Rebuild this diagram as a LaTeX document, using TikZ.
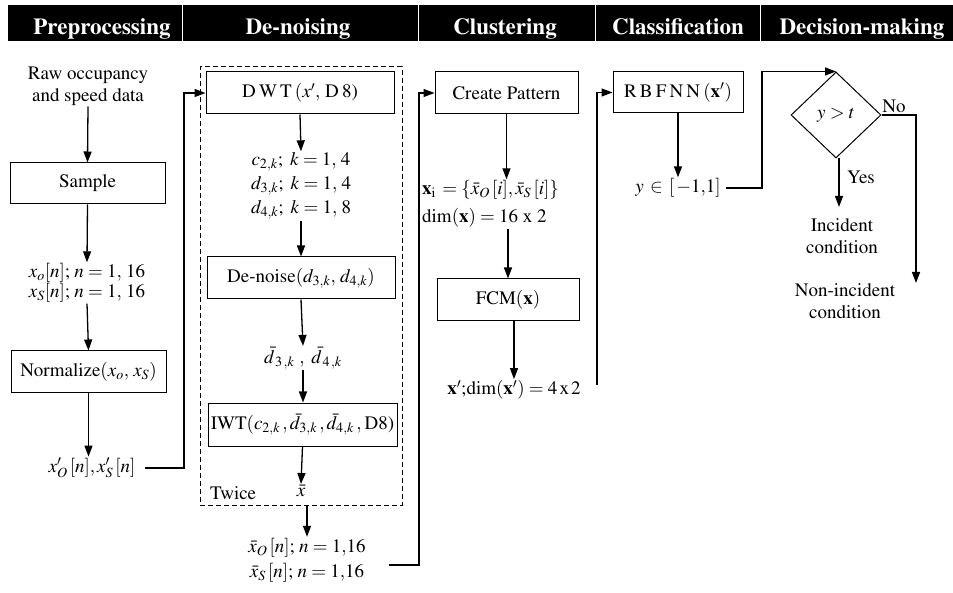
\documentclass[tikz,border=0pt]{standalone}
\usepackage[T1]{fontenc}
\usepackage{mathptmx}
\usetikzlibrary{arrows.meta,shapes.geometric}
\begin{document}
\begin{tikzpicture}[x=1pt,y=-1pt,
  every node/.style={font=\fontsize{19}{22}\selectfont},
  box/.style={draw,line width=1pt,inner sep=0pt},
  txt/.style={inner sep=1pt,align=center},
  arr/.style={line width=1.3pt,-{Triangle[length=11pt,width=8pt]}},
  hdr/.style={text=white,anchor=base,inner sep=0pt,font=\fontsize{23}{25}\selectfont\bfseries},
  dashbox/.style={draw,line width=1pt,dash pattern=on 5pt off 3pt,inner sep=0pt}]
\useasboundingbox (0,0) rectangle (953,593);
% header
\fill[black] (8,5) rectangle (953,41);
\foreach \xx in {182,418,595,760} \draw[white,line width=1pt] (\xx,5) -- (\xx,41);
\node[hdr] (h1) at (102,35) {Preprocessing};
\node[hdr] (h2) at (298,35) {De-noising};
\node[hdr] (h3) at (505,35) {Clustering};
\node[hdr] (h4) at (678,35) {Classification};
\node[hdr] (h5) at (862,35) {Decision-making};
% Preprocessing
\node[txt] (raw) at (88,86) {Raw occupancy\\and speed data};
\node[box,minimum width=155,minimum height=41] (sample) at (87.5,183.5) {Sample};
\node[txt,font=\fontsize{19}{20}\selectfont] (xo) at (87,283) {$x_o[n];\, n=1,\,16$\\$x_S[n];\, n=1,\,16$};
\node[box,minimum width=155,minimum height=42] (norm) at (88.5,372) {Normalize$(x_o,\, x_S)$};
\node[txt] (xpr) at (92,468) {$x'_O\,[n], x'_S\,[n]$};
% De-noising
\node[dashbox,minimum width=202,minimum height=438] (loop) at (301,286) {};
\node[box,minimum width=188,minimum height=42] (dwt) at (300,93) {D\,W\,T\,$(x',$\ D\,8)};
\node[txt,font=\fontsize{19}{24}\selectfont] (coef) at (301,186) {$c_{2,k};\ k=1,\,4$\\$d_{3,k};\ k=1,\,4$\\$d_{4,k};\ k=1,\,8$};
\node[box,minimum width=188,minimum height=42] (den) at (301,278) {De-noise$(d_{3,k},\, d_{4,k})$};
\node[txt] (dbar) at (303,358) {$\bar d_{\,3\,,k}\ ,\ \bar d_{\,4\,,k}$};
\node[box,minimum width=189,minimum height=43] (iwt) at (302.5,424.5) {IWT$(c_{2,k}\,,\bar d_{3,k}\,,\bar d_{4,k}\,,$\,D8)};
\node[txt,anchor=west] (twice) at (209,493) {Twice};
\node[txt] (xbar) at (301,491) {$\bar x$};
\node[txt,font=\fontsize{19}{25}\selectfont] (xbos) at (307,560) {$\bar x_O\,[n];\, n=1{,}16$\\$\bar x_S\,[n];\, n=1{,}16$};
% Clustering
\node[box,minimum width=143,minimum height=42] (cp) at (506.5,93) {Create Pattern};
\node[txt,anchor=west,align=left,font=\fontsize{19}{28}\selectfont] (xi) at (421,204) {$\mathbf{x}_{\mathrm{i}}\, =\{\bar x_O\,[i], \bar x_S\,[i]\}$\\$\dim(\mathbf{x})=16\ \mathrm{x}\ 2$};
\node[box,minimum width=142,minimum height=42] (fcm) at (508,300) {FCM$(\mathbf{x})$};
\node[txt] (xp) at (514,390) {$\mathbf{x}';\!\dim(\mathbf{x}')=4\,\mathrm{x}\,2$};
% Classification
\node[box,minimum width=130,minimum height=41] (rbf) at (678,92.5) {R\,B\,F\,N\,N\,$(\mathbf{x}')$};
\node[txt] (yin) at (678,188) {$y\,\in\,[\,-1{,}1]$};
% Decision-making
\node[draw,line width=1pt,diamond,aspect=1.05,minimum width=90,minimum height=86,inner sep=0pt] (dia) at (836,115) {$y>t$};
\node[txt] (no) at (894,106) {No};
\node[txt] (yes) at (861,177) {Yes};
\node[txt] (inc) at (842,236) {Incident\\condition};
\node[txt] (ninc) at (845,301) {Non-incident\\condition};
% helper coordinates
\coordinate (c1) at (184,0);
\coordinate (c2) at (419,0);
\coordinate (c3) at (597,385);
\coordinate (c4) at (762,0);
\coordinate (c5) at (916,283);
\coordinate (c6) at (839,207);
% connectors
\draw[arr] (raw.south) -- (sample.north);
\draw[arr] (sample.south) -- (xo.north);
\draw[arr] (xo.south) -- (norm.north);
\draw[arr] (norm.south) -- (norm.south |- xpr.north);
\draw[arr] ([xshift=8pt]xpr.east) -- (xpr.east -| c1) |- (dwt.west);
\draw[arr] (dwt.south) -- (coef.north);
\draw[arr] (coef.south) -- (den.north);
\draw[arr] (den.south) -- (dbar.north);
\draw[arr] (dbar.south) -- (dbar.south |- iwt.north);
\draw[arr] (iwt.south) -- (xbar.north);
\draw[arr] (xbos.north |- loop.south) -- (xbos.north);
\draw[arr] ([xshift=22pt,yshift=-5pt]xbos.east) -- ([yshift=-5pt]xbos.east -| c2) |- (cp.west);
\draw[arr] (cp.south) -- (cp.south |- xi.north);
\draw[arr] (fcm.north |- xi.south) -- (fcm.north);
\draw[arr] (fcm.south -| xp.north) -- (xp.north);
\draw[arr] (c3) |- (rbf.west);
\draw[arr] (rbf.south) -- (yin.north);
\draw[arr] ([xshift=4pt]yin.east) -- (yin.east -| c4) |- (dia.north);
\draw[arr] (dia.east) -| (c5);
\draw[arr] (dia.south -| c6) -- (c6);
\end{tikzpicture}
\end{document}
